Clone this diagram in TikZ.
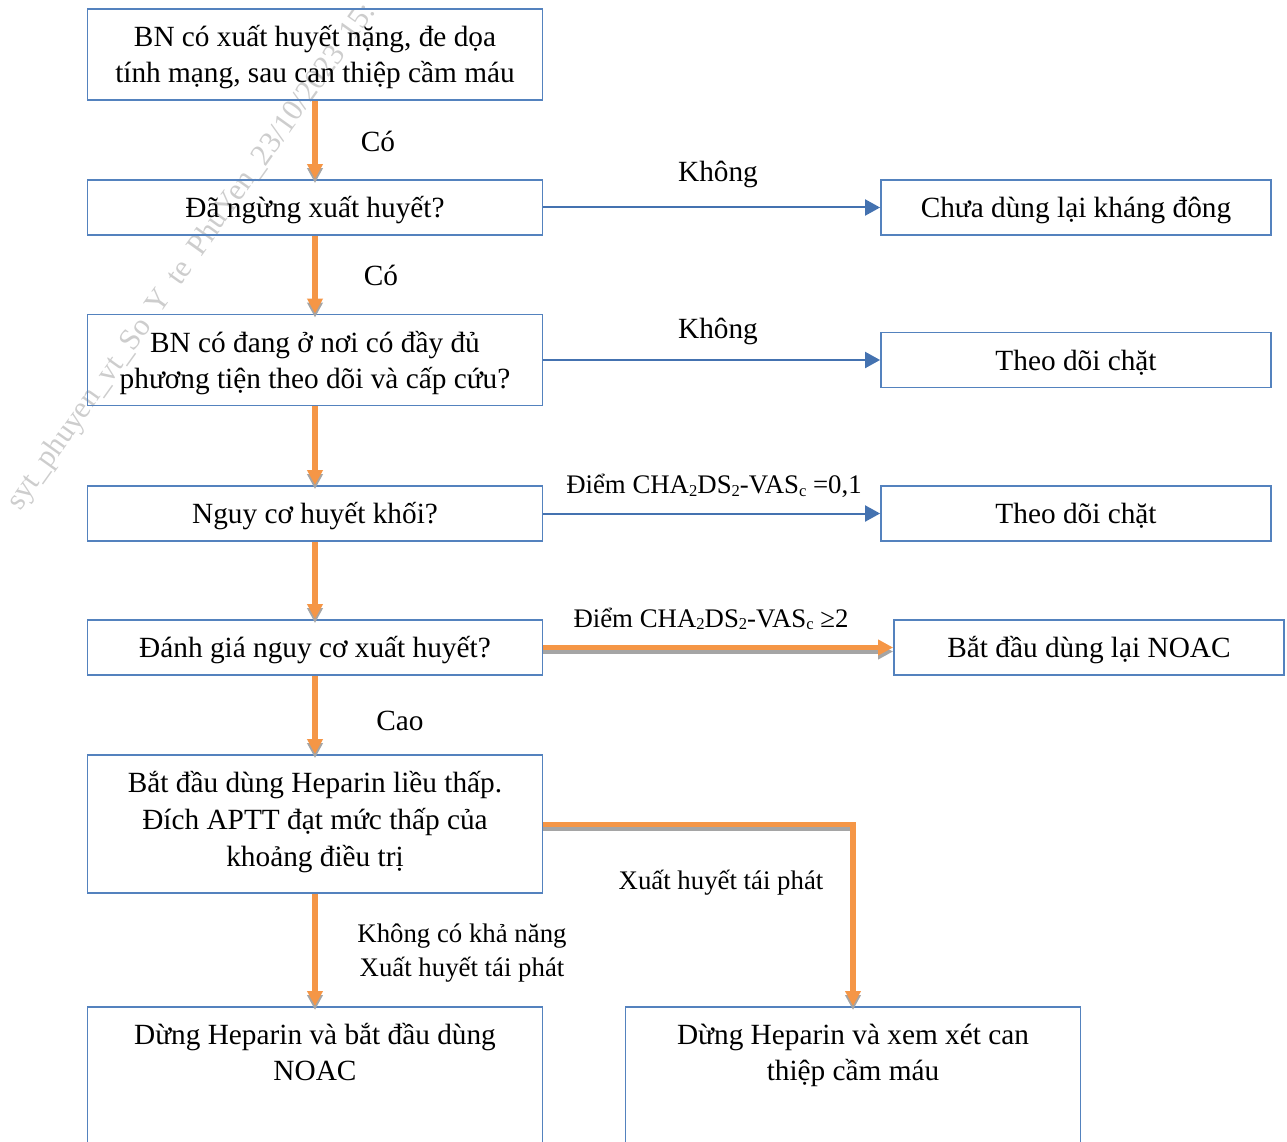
\documentclass[tikz,border=0pt]{standalone}
\usepackage{fontspec}
\setmainfont{Liberation Serif}
\usetikzlibrary{arrows.meta}
\definecolor{boxblue}{RGB}{84,130,190}
\definecolor{arrowblue}{RGB}{68,114,176}
\definecolor{arroworange}{RGB}{245,150,70}
\definecolor{shadowgray}{RGB}{165,165,165}
\definecolor{wmgray}{RGB}{205,205,205}
\newcommand{\sbs}[1]{\raisebox{-0.2ex}{\scalebox{0.62}{#1}}}
\tikzset{
  x=1pt,y=-1pt,
  flowbox/.style={draw=boxblue,line width=1.8pt,fill=none,inner sep=0pt,minimum width=455pt,align=center,font=\fontsize{29.3}{36}\selectfont},
  oneline/.style={text height=27pt,text depth=6.5pt},
  twoline/.style={text height=62pt,text depth=6.5pt},
  sidebox/.style={flowbox,oneline,minimum width=390pt},
  lbl/.style={inner sep=0pt,align=center,font=\fontsize{29.3}{36}\selectfont},
  smalllbl/.style={inner sep=0pt,align=center,font=\fontsize{26.8}{34}\selectfont},
  orangearrow/.style={draw=arroworange,line width=5.3pt,-{Triangle[length=15pt,width=15pt]},
    preaction={draw=shadowgray,line width=5.3pt,-{Triangle[length=15pt,width=15pt]},transform canvas={yshift=-4pt}}},
  bluearrow/.style={draw=arrowblue,line width=2pt,-{Triangle[length=15pt,width=16pt]}},
}
\begin{document}
\begin{tikzpicture}
\useasboundingbox (0,0) rectangle (1287,1142);
\clip (0,0) rectangle (1287,1142);
\node[rotate=54.5,anchor=west,inner sep=0pt,text=wmgray,font=\fontsize{30.5}{31}\selectfont] (wm) at (14,507) {syt\_phuyen\_vt\_So\hspace{6pt} Y\hspace{6pt} te\hspace{6pt} PhuYen\_23/10/2023\hspace{6pt} 15:};
% boxes
\node[flowbox,twoline,minimum height=91pt] (a) at (315,54.5) {BN có xuất huyết nặng, đe dọa\\tính mạng, sau can thiệp cầm máu};
\node[flowbox,oneline,minimum height=55pt] (b) at (315,207.5) {Đã ngừng xuất huyết?};
\node[flowbox,twoline,text height=64pt,minimum height=91pt] (c) at (315,360) {BN có đang ở nơi có đầy đủ\\phương tiện theo dõi và cấp cứu?};
\node[flowbox,oneline,minimum height=55pt] (d) at (315,513.5) {Nguy cơ huyết khối?};
\node[flowbox,oneline,minimum height=55pt] (e) at (315,647.5) {Đánh giá nguy cơ xuất huyết?};
\node[flowbox,minimum height=138pt,text depth=10.5pt] (f) at (315,824) {Bắt đầu dùng Heparin liều thấp.\\[1pt]Đích APTT đạt mức thấp của\\[1pt]khoảng điều trị};
\node[flowbox,minimum height=160pt,anchor=north,text depth=70pt] (g) at (315,1006) {Dừng Heparin và bắt đầu dùng\\NOAC};
\node[flowbox,minimum height=160pt,anchor=north,text depth=70pt] (h) at (853,1006) {Dừng Heparin và xem xét can\\thiệp cầm máu};
\node[sidebox,minimum height=55pt] (b2) at (1076,207.5) {Chưa dùng lại kháng đông};
\node[sidebox,minimum height=55pt] (c2) at (1076,360) {Theo dõi chặt};
\node[sidebox,minimum height=55pt] (d2) at (1076,513.5) {Theo dõi chặt};
\node[sidebox,minimum height=55pt] (e2) at (1089,647.5) {Bắt đầu dùng lại NOAC};
% helper coordinates
\coordinate (fr) at (f.east |- 0,824.5);
\coordinate (hc) at (h.north);
% connectors
\draw[orangearrow] (a.south) -- (b.north);
\draw[orangearrow] (b.south) -- (c.north);
\draw[orangearrow] (c.south) -- (d.north);
\draw[orangearrow] (d.south) -- (e.north);
\draw[orangearrow] (e.south) -- (f.north);
\draw[orangearrow] (f.south) -- (g.north);
\draw[bluearrow] (b.east) -- (b2.west);
\draw[bluearrow] (c.east) -- (c2.west);
\draw[bluearrow] (d.east) -- (d2.west);
\draw[orangearrow] (e.east) -- (e2.west);
\draw[orangearrow] (fr) -| (hc);
% labels
\node[lbl] (l1) at (378,141) {Có};
\node[lbl] (l2) at (381,275.5) {Có};
\node[lbl] (l3) at (718,174) {Không};
\node[lbl] (l4) at (718,331) {Không};
\node[lbl] (l5) at (400,721) {Cao};
\node[smalllbl] (l6) at (714,486) {Điểm CHA\sbs{2}DS\sbs{2}-VAS\sbs{c} =0,1};
\node[smalllbl] (l7) at (711,619) {Điểm CHA\sbs{2}DS\sbs{2}-VAS\sbs{c} ≥2};
\node[smalllbl] (l8) at (721,883) {Xuất huyết tái phát};
\node[smalllbl] (l9) at (462,953) {Không có khả năng\\Xuất huyết tái phát};
\end{tikzpicture}
\end{document}
